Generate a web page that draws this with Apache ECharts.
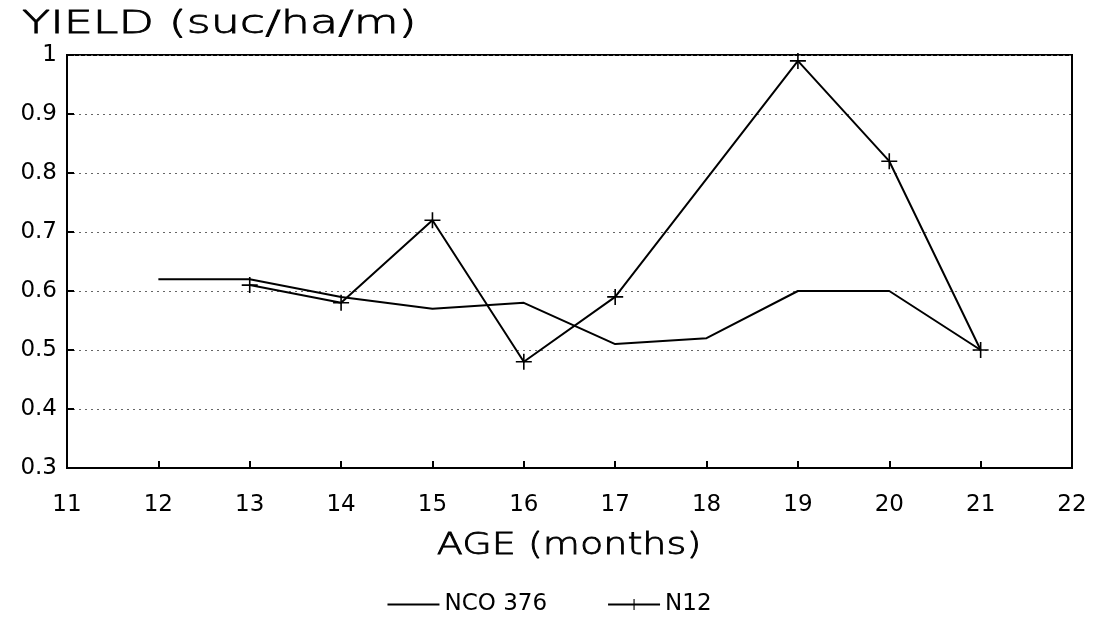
<!DOCTYPE html>
<html>
<head>
<meta charset="utf-8">
<script src="https://cdn.jsdelivr.net/npm/echarts@6/dist/echarts.min.js"></script>
<style>
  html, body { margin: 0; padding: 0; background: #fff; }
  #chart { width: 1098px; height: 637px; }
</style>
</head>
<body>
<div id="chart"></div>
<script>
// 数据
const ageNco = [12, 13, 14, 15, 16, 17, 18, 19, 20, 21];
const yieldNco = [0.62, 0.62, 0.59, 0.57, 0.58, 0.51, 0.52, 0.60, 0.60, 0.50];
const ageN12 = [13, 14, 15, 16, 17, 19, 20, 21];
const yieldN12 = [0.61, 0.58, 0.72, 0.48, 0.59, 0.99, 0.82, 0.50];
const seriesNames = ['NCO 376', 'N12'];
const yTitle = 'YIELD (suc/ha/m)';
const xTitle = 'AGE (months)';

const plus = 'path://M-1,-10 H1 V-1 H10 V1 H1 V10 H-1 V1 H-10 V-1 H-1 Z';
const font = 'DejaVu Sans';

const chart = echarts.init(document.getElementById('chart'));
chart.setOption({
    animation: false,
    textStyle: { fontFamily: font, color: '#000' },
    grid: { left: 67, right: 26, top: 55, bottom: 169, show: true, borderColor: '#000', borderWidth: 2 },
    // 标题和轴名字体较宽，用 scaleX 拉宽
    graphic: [
        {
            type: 'text', x: 22, y: 9, scaleX: 1.44,
            style: {
                text: yTitle, font: '200 32px "DejaVu Sans"', fill: '#000',
                stroke: '#000', lineWidth: 0.8,
                textAlign: 'left', textVerticalAlign: 'top'
            }
        },
        {
            type: 'text', x: 569, y: 546, scaleX: 1.23,
            style: {
                text: xTitle, font: '200 31px "DejaVu Sans"', fill: '#000',
                stroke: '#000', lineWidth: 0.8,
                textAlign: 'center', textVerticalAlign: 'middle'
            }
        }
    ],
    legend: {
        bottom: 16, left: 'center',
        itemWidth: 52, itemHeight: 14, itemGap: 60,
        textStyle: { fontFamily: font, fontSize: 23, color: '#000' },
        data: [
            { name: seriesNames[0], itemStyle: { opacity: 0 } },
            { name: seriesNames[1] }
        ]
    },
    xAxis: {
        type: 'value', min: 11, max: 22, interval: 1,
        axisLine: { lineStyle: { color: '#000', width: 2 } },
        axisTick: { inside: true, length: 7, lineStyle: { color: '#000', width: 2 } },
        axisLabel: { fontSize: 23, color: '#000', margin: 26 },
        splitLine: { show: false }
    },
    yAxis: {
        type: 'value', min: 0.3, max: 1, interval: 0.1,
        axisLine: { lineStyle: { color: '#000', width: 2 } },
        axisTick: { inside: true, length: 7, lineStyle: { color: '#000', width: 2 } },
        axisLabel: { fontSize: 23, color: '#000', margin: 10, formatter: v => (+v.toFixed(1)).toString() },
        splitLine: { lineStyle: { color: '#666', type: [2, 4], width: 1 } }
    },
    series: [
        {
            name: seriesNames[0], type: 'line',
            data: ageNco.map((a, i) => [a, yieldNco[i]]),
            symbol: 'none',
            itemStyle: { color: '#000' },
            lineStyle: { color: '#000', width: 2 }
        },
        {
            name: seriesNames[1], type: 'line',
            data: ageN12.map((a, i) => [a, yieldN12[i]]),
            symbol: plus, symbolSize: 16,
            itemStyle: { color: '#000' },
            lineStyle: { color: '#000', width: 2 }
        }
    ]
});
</script>
</body>
</html>
